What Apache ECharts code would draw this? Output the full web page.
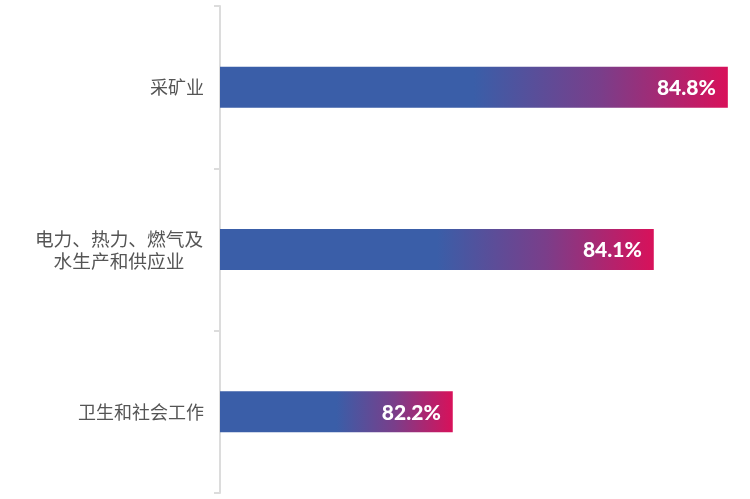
<!DOCTYPE html>
<html><head><meta charset="utf-8">
<script src="https://cdn.jsdelivr.net/npm/echarts@6/dist/echarts.min.js"></script>
<style>html,body{margin:0;padding:0;background:#fff}#c{width:750px;height:499px}</style>
</head><body><div id="c"></div>
<script>
const categories = ['采矿业', '电力、热力、燃气及\n水生产和供应业', '卫生和社会工作'];
const values = [84.8, 84.1, 82.2];
const xMin = 80, xMax = 85;

const chart = echarts.init(document.getElementById('c'));
chart.setOption({
  animation: false,
  grid: { left: 220, right: 1, top: 6, bottom: 6, containLabel: false },
  xAxis: { type: 'value', min: xMin, max: xMax, show: false },
  yAxis: {
    type: 'category', data: categories, inverse: true,
    axisLine: { show: true, lineStyle: { color: '#dcdcdc', width: 2 } },
    axisTick: { show: true, length: 6, lineStyle: { color: '#dcdcdc', width: 2 } },
    axisLabel: {
      color: '#555', fontSize: 18, lineHeight: 22, margin: 16, fontFamily: 'Noto Sans CJK SC',
      formatter: v => v.indexOf('\n') >= 0 ? v.split('\n').map(s => '{c|' + s + '}').join('\n') : v,
      rich: { c: { width: 170, align: 'center', color: '#555', fontSize: 18.7, lineHeight: 22, fontFamily: 'Noto Sans CJK SC' } }
    }
  },
  series: [{
    type: 'bar', data: values, barWidth: 41,
    itemStyle: {
      color: new echarts.graphic.LinearGradient(0, 0, 1, 0, [
        { offset: 0, color: '#3a5ea8' },
        { offset: 0.5, color: '#3a5ea8' },
        { offset: 0.75, color: '#7a3e8a' },
        { offset: 1, color: '#d8115a' }
      ])
    },
    label: {
      show: true, position: 'insideRight', offset: [-7, 1],
      formatter: p => p.value.toFixed(1) + '%',
      color: '#fff', fontSize: 21, fontWeight: 900, fontFamily: 'Lato'
    }
  }]
});
</script></body></html>
